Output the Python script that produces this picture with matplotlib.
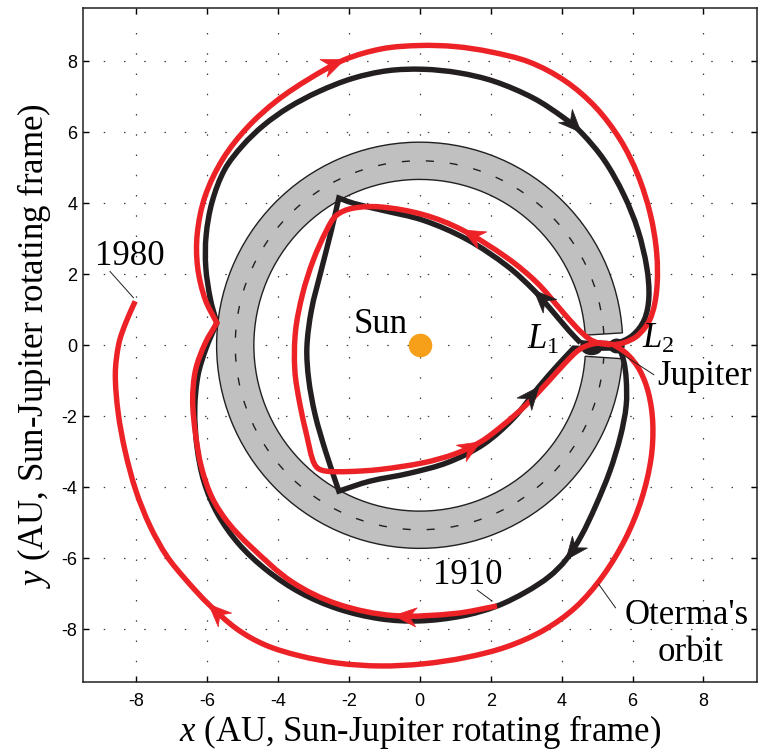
import numpy as np
import matplotlib
matplotlib.use('Agg')
import matplotlib.pyplot as plt
from matplotlib.patches import Wedge, Arc, Ellipse, Polygon, PathPatch
from matplotlib.path import Path

plt.rcParams['font.family'] = ['Liberation Sans', 'DejaVu Sans']
plt.rcParams['axes.unicode_minus'] = False
plt.rcParams['mathtext.fontset'] = 'custom'
plt.rcParams['mathtext.rm'] = 'Liberation Serif'
plt.rcParams['mathtext.it'] = 'Liberation Serif:italic'

RED = '#ec2227'
BLACK = '#231f20'
SERIF = 'Liberation Serif'

# homoclinic-heteroclinic chain (closed, starting at L1, AU in rotating frame)
chain = np.array([
    (4.53, 0.07), (4.20, 0.42), (3.75, 0.95), (3.22, 1.55), (2.47, 2.23),
    (1.34, 2.98), (0.11, 3.52), (-1.11, 3.82), (-1.86, 4.00), (-2.28, 4.15),
    (-2.50, 3.20), (-2.78, 2.10), (-3.05, 1.00), (-3.18, -0.05), (-3.13, -0.95),
    (-2.95, -1.95), (-2.65, -3.00), (-2.28, -4.11), (-1.40, -3.83), (-0.30, -3.61),
    (0.80, -3.30), (1.80, -2.79), (2.65, -2.05), (3.36, -1.17), (3.90, -0.55),
    (4.34, -0.08), (4.85, -0.10), (5.25, -0.08), (5.60, -0.12), (5.74, -0.40),
    (5.82, -0.95), (5.82, -1.70), (5.66, -2.56), (5.36, -3.55), (4.95, -4.55),
    (4.55, -5.38), (4.12, -6.05), (3.65, -6.52), (3.00, -6.95), (2.18, -7.35),
    (1.20, -7.63), (0.00, -7.77), (-1.11, -7.71), (-2.30, -7.43), (-3.37, -6.97),
    (-4.30, -6.35), (-5.10, -5.60), (-5.70, -4.75), (-6.08, -3.85), (-6.28, -2.85),
    (-6.34, -1.80), (-6.25, -0.85), (-6.02, -0.08), (-5.72, 0.63), (-5.90, 1.30),
    (-6.03, 2.20), (-6.02, 3.10), (-5.85, 4.05), (-5.50, 4.95), (-5.00, 5.62),
    (-4.40, 6.20), (-3.70, 6.70), (-2.85, 7.15), (-1.90, 7.52), (-0.90, 7.74),
    (0.10, 7.78), (1.10, 7.68), (2.10, 7.44), (3.20, 6.97), (4.05, 6.42),
    (4.55, 6.00), (5.20, 5.22), (5.75, 4.25), (6.15, 3.25), (6.40, 2.20),
    (6.46, 1.35), (6.33, 0.72), (6.00, 0.28), (5.55, 0.06), (5.15, 0.05),
    (4.80, 0.05), (4.53, 0.07),
])
chain_corners = [0, 9, 17, 25, 53, 81]
chain_arrows = [3, 23, 36, 70]

# comet Oterma, 1910 -> 1980
oterma = np.array([
    (2.18, -7.35), (1.00, -7.56), (-0.73, -7.62), (-2.30, -7.30), (-3.60, -6.67),
    (-4.78, -5.66), (-5.40, -5.00), (-5.85, -4.30), (-6.15, -3.45), (-6.32, -2.50),
    (-6.40, -1.55), (-6.32, -0.70), (-6.05, 0.05), (-5.72, 0.63), (-6.05, 1.30),
    (-6.26, 2.20), (-6.27, 3.15), (-6.05, 4.20), (-5.55, 5.25), (-4.85, 6.15),
    (-4.02, 6.90), (-3.10, 7.52), (-2.12, 8.05), (-1.05, 8.36), (0.00, 8.45),
    (1.00, 8.42), (2.00, 8.27), (3.10, 7.98), (4.10, 7.45), (4.95, 6.72),
    (5.65, 5.80), (6.15, 4.80), (6.50, 3.70), (6.68, 2.60), (6.68, 1.55),
    (6.50, 0.75), (6.15, 0.28), (5.75, 0.07), (5.40, 0.02), (5.05, 0.06),
    (4.78, 0.18), (4.44, 0.48), (3.97, 1.01), (3.31, 1.76), (2.47, 2.46),
    (1.20, 3.25), (0.11, 3.68), (-1.11, 3.90), (-1.90, 3.86), (-2.35, 3.66),
    (-2.62, 3.25), (-3.00, 2.40), (-3.30, 1.45), (-3.50, 0.40), (-3.52, -0.70),
    (-3.38, -1.65), (-3.18, -2.56), (-3.02, -3.22), (-2.88, -3.46), (-2.62, -3.55),
    (-2.00, -3.56), (-1.11, -3.50), (0.11, -3.31), (1.00, -3.06), (1.72, -2.72),
    (2.35, -2.25), (3.00, -1.68), (3.60, -1.05), (4.10, -0.50), (4.50, -0.12),
    (4.85, 0.03), (5.20, 0.06), (5.50, -0.02), (5.85, -0.25), (6.20, -0.70),
    (6.45, -1.35), (6.57, -2.20), (6.52, -3.20), (6.25, -4.35), (5.80, -5.45),
    (5.15, -6.52), (4.40, -7.38), (3.50, -8.03), (2.45, -8.50), (1.30, -8.80),
    (0.10, -8.98), (-1.10, -9.04), (-2.30, -8.96), (-3.40, -8.75), (-4.35, -8.45),
    (-5.15, -8.00), (-5.95, -7.30), (-6.60, -6.60), (-7.13, -5.94), (-7.60, -5.10),
    (-8.00, -4.10), (-8.30, -3.00), (-8.50, -1.90), (-8.58, -0.80), (-8.48, 0.05),
    (-8.28, 0.65), (-8.02, 1.24),
])
oterma_corners = [13]
oterma_arrows = [2, 22, 45, 64, 91]

r_jup = 5.2          # Jupiter's orbit
band_half = 0.525    # half width of the forbidden band
ticks = [-8, -6, -4, -2, 0, 2, 4, 6, 8]


def unit(v):
    return v / np.hypot(*v)


def smooth_path(pts, corners=(), closed=False):
    """Cubic Bezier path through every point; tangents break at corners."""
    n = len(pts)
    tang = []
    for i in range(n):
        if i in corners:
            tang.append(None)
            continue
        if closed and i in (0, n - 1):
            prev, nxt = pts[n - 2], pts[1]
        else:
            prev = pts[max(i - 1, 0)]
            nxt = pts[min(i + 1, n - 1)]
        tang.append(unit(nxt - prev))
    verts = [pts[0]]
    codes = [Path.MOVETO]
    for i in range(n - 1):
        p0, p1 = pts[i], pts[i + 1]
        seg = np.hypot(*(p1 - p0))
        t0 = tang[i] if tang[i] is not None else unit(p1 - p0)
        t1 = tang[i + 1] if tang[i + 1] is not None else unit(p1 - p0)
        verts += [p0 + t0 * seg / 3, p1 - t1 * seg / 3, p1]
        codes += [Path.CURVE4] * 3
    return Path(verts, codes)


def arrowhead(ax, pts, i, color, length=0.64, half=0.27):
    tip = pts[i]
    d = unit(pts[i + 1] - pts[i - 1])
    n = np.array([-d[1], d[0]])
    back = tip - length * d
    head = [tip, back + half * n, tip - 0.68 * length * d, back - half * n]
    ax.add_patch(Polygon(head, closed=True, fc=color, ec=color, lw=0.5, zorder=6))


fig = plt.figure(figsize=(7.58, 7.51), dpi=100)
ax = fig.add_axes([0.1091, 0.0915, 0.8892, 0.8975])
ax.set_xlim(-9.5, 9.5)
ax.set_ylim(-9.5, 9.5)

# forbidden region, open only at the Jupiter necks
ax.add_patch(Wedge((0, 0), r_jup + band_half, 3.5, 356.2, width=2 * band_half,
                   fc='#c0c0c0', ec=BLACK, lw=1.0, zorder=2))
ax.add_patch(Arc((0, 0), 2 * r_jup, 2 * r_jup, theta1=3.5, theta2=356.2,
                 color=BLACK, lw=1.0, linestyle=(0, (5.8, 11.5)), zorder=2))

ax.add_patch(PathPatch(smooth_path(chain, chain_corners, closed=True), fill=False,
                       ec=BLACK, lw=3.9, joinstyle='miter', capstyle='butt', zorder=3))
ax.add_patch(Ellipse((4.85, -0.08), 0.55, 0.36, color=BLACK, zorder=3))
ax.add_patch(Ellipse((5.55, -0.02), 0.42, 0.38, color=BLACK, zorder=3))
for i in chain_arrows:
    arrowhead(ax, chain, i, BLACK)

ax.add_patch(PathPatch(smooth_path(oterma, oterma_corners), fill=False,
                       ec=RED, lw=3.9, joinstyle='miter', capstyle='butt', zorder=4))
for i in oterma_arrows:
    arrowhead(ax, oterma, i, RED)

ax.plot(0, 0, 'o', ms=17, color='#f6a01a', mec='none', zorder=5)

# labels and leader lines
fs = 25
ax.text(-1.09, 0.35, 'Sun', fontsize=fs, family=SERIF, ha='center', va='baseline', zorder=7)
ax.text(3.03, -0.09, '$L_1$', fontsize=fs, ha='left', va='baseline', zorder=7)
ax.text(6.27, -0.07, '$L_2$', fontsize=fs, ha='left', va='baseline', zorder=7)
ax.text(6.70, -1.13, 'Jupiter', fontsize=fs, family=SERIF, ha='left', va='baseline', zorder=7)
ax.text(0.38, -6.74, '1910', fontsize=fs, family=SERIF, ha='left', va='baseline', zorder=7)
ax.text(-9.15, 2.27, '1980', fontsize=fs, family=SERIF, ha='left', va='baseline', zorder=7)
ax.text(7.52, -7.87, "Oterma's", fontsize=fs, family=SERIF, ha='center', va='baseline', zorder=7)
ax.text(7.63, -8.90, 'orbit', fontsize=fs, family=SERIF, ha='center', va='baseline', zorder=7)
for (x0, y0), (x1, y1) in [((5.40, -0.05), (6.60, -0.83)),
                           ((1.62, -6.90), (2.04, -7.21)),
                           ((-8.73, 2.08), (-8.07, 1.34)),
                           ((5.05, -6.74), (5.52, -7.40))]:
    ax.plot([x0, x1], [y0, y1], color=BLACK, lw=0.7, zorder=7)

ax.set_xticks(ticks)
ax.set_yticks(ticks)
ax.tick_params(direction='in', length=4.5, width=1.0, top=True, right=True,
               labelsize=13, pad=8)
ax.tick_params(axis='y', pad=4)
ax.grid(True, linestyle=(0, (1.2, 15)), color='0.25', linewidth=0.9)
ax.set_axisbelow(True)
for s in ax.spines.values():
    s.set_linewidth(1.1)
    s.set_color(BLACK)

ax.set_xlabel('$x$ (AU, Sun-Jupiter rotating frame)', fontsize=fs, family=SERIF, labelpad=2)
ax.set_ylabel('$y$ (AU, Sun-Jupiter rotating frame)', fontsize=fs, family=SERIF, labelpad=6)

fig.savefig('out.png', dpi=100)
